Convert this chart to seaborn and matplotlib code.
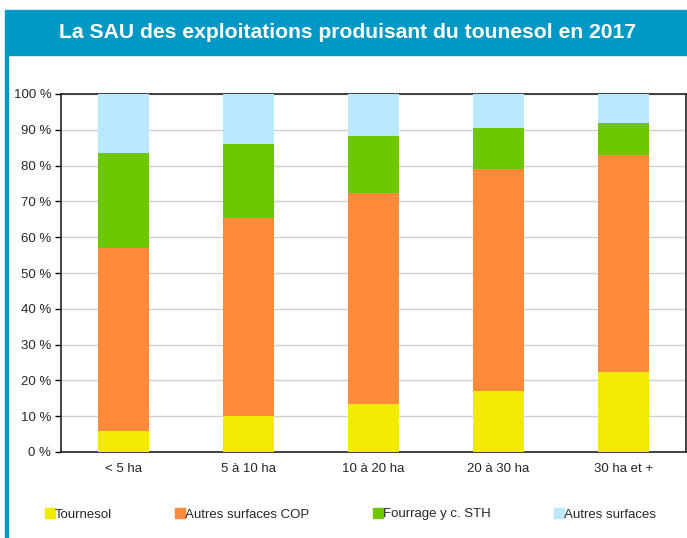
import seaborn as sns
import pandas as pd
import matplotlib.pyplot as plt
import numpy as np
from matplotlib.patches import Rectangle

# -------------------------------
# DATA (shares of SAU, %)
# -------------------------------
classes = ["< 5 ha", "5 à 10 ha", "10 à 20 ha", "20 à 30 ha", "30 ha et +"]
tournesol = [6.0, 10.0, 13.4, 17.0, 22.3]
autres_cop = [51.1, 55.4, 58.9, 62.0, 60.7]
fourrage = [26.5, 20.6, 16.0, 11.5, 8.9]
autres_surf = [16.4, 14.0, 11.7, 9.5, 8.1]

series = ["Tournesol", "Autres surfaces COP", "Fourrage y c. STH", "Autres surfaces"]
colors = ["#F2EA00", "#FF8A3A", "#6EC800", "#B9E8FF"]

df = pd.DataFrame({
    "classe": classes,
    "Tournesol": tournesol,
    "Autres surfaces COP": autres_cop,
    "Fourrage y c. STH": fourrage,
    "Autres surfaces": autres_surf,
})

# cumulative heights for stacking
cum = df[series].cumsum(axis=1)

# -------------------------------
# FIGURE
# -------------------------------
sns.set_style("white")
plt.rcParams["font.family"] = ["Liberation Sans", "DejaVu Sans"]

fig = plt.figure(figsize=(6.87, 5.38), dpi=100)
W, H = 687, 538

# blue title band + left border
fig.patches.append(Rectangle((5 / W, 1 - 55 / H), 682 / W, 45 / H,
                             transform=fig.transFigure, color="#0099C6", zorder=0))
fig.patches.append(Rectangle((5 / W, 0), 2.5 / W, 1 - 55 / H,
                             transform=fig.transFigure, color="#0099C6", zorder=0))
fig.text(347.5 / W, 1 - 33 / H,
         "La SAU des exploitations produisant du tounesol en 2017",
         color="white", fontsize=15.2, fontweight="bold", ha="center", va="center")

ax = fig.add_axes([61 / W, 1 - 452 / H, 625 / W, 358 / H])

# draw from the top of the stack downwards so lower segments overlay
for s, c in zip(series[::-1], colors[::-1]):
    sns.barplot(x=df["classe"], y=cum[s], color=c, width=0.41,
                saturation=1, linewidth=0, edgecolor="none", ax=ax, zorder=3)

ax.set_xlim(-0.5, 4.5)
ax.set_ylim(0, 100)
ax.set_xlabel("")
ax.set_ylabel("")

ax.set_yticks(np.arange(0, 101, 10))
ax.set_yticklabels([f"{v} %" for v in range(0, 101, 10)], fontsize=9.5)
ax.yaxis.grid(True, color="#D0D0D0", lw=1, zorder=0)

ax.set_xticks(range(len(classes)))
ax.set_xticklabels(classes, fontsize=9.5)
ax.set_xticks(np.arange(-0.5, 5, 1), minor=True)
ax.tick_params(axis="x", which="major", length=0, pad=8)
ax.tick_params(axis="x", which="minor", length=4, width=1, color="black", direction="out")
ax.tick_params(axis="y", length=4, width=1, color="black", direction="out", left=True, pad=3)

for sp in ax.spines.values():
    sp.set_visible(True)
    sp.set_color("#222222")
    sp.set_linewidth(1.2)

# -------------------------------
# LEGEND (manual row)
# -------------------------------
leg_x = [45, 175, 373, 554]
for x, s, c in zip(leg_x, series, colors):
    fig.patches.append(Rectangle((x / W, 1 - 518 / H), 9.5 / W, 10 / H,
                                 transform=fig.transFigure, color=c))
    fig.text((x + 10) / W, 1 - 517.5 / H, s, fontsize=9.5, va="baseline", ha="left")

plt.savefig("out.png", dpi=100)
